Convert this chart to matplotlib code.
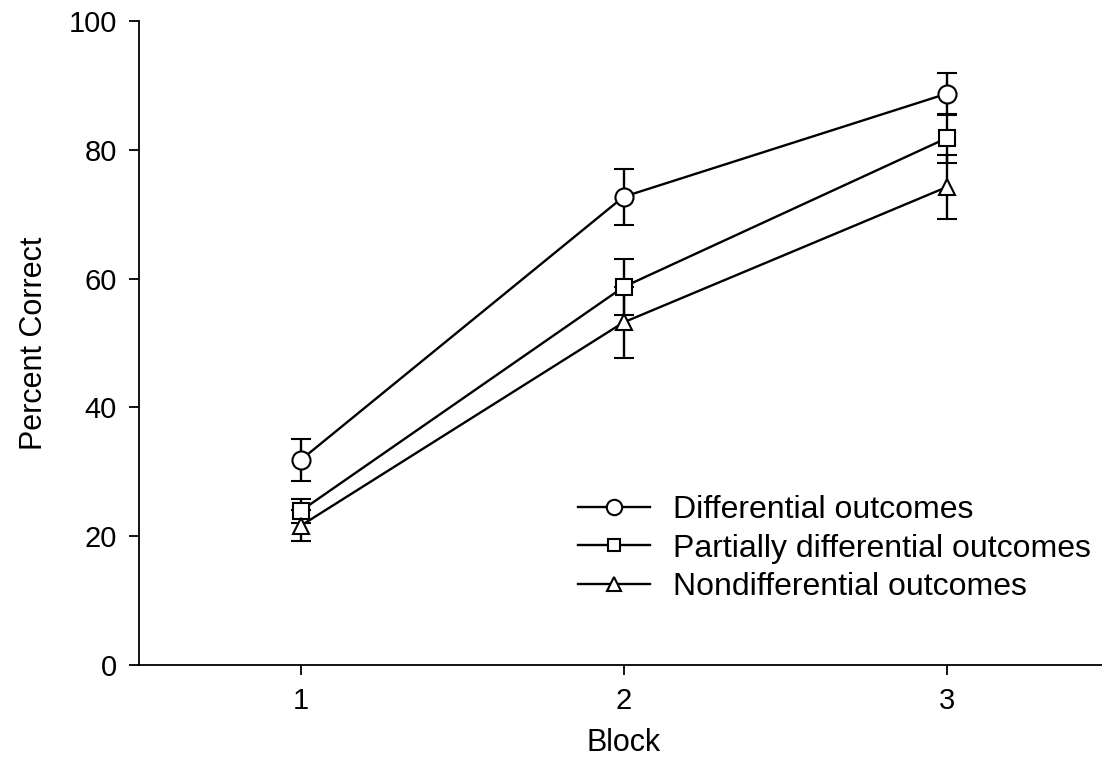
import matplotlib
matplotlib.use("Agg")
import matplotlib.pyplot as plt

plt.rcParams['font.family'] = ['Liberation Sans', 'DejaVu Sans']

blocks = [1, 2, 3]
labels = ["Differential outcomes", "Partially differential outcomes", "Nondifferential outcomes"]
diff_mean = [31.8, 72.7, 88.7]
diff_err = [3.3, 4.3, 3.3]
part_mean = [23.9, 58.7, 81.8]
part_err = [1.9, 4.3, 3.8]
nond_mean = [21.6, 53.2, 74.2]
nond_err = [2.4, 5.5, 5.0]

fig = plt.figure(figsize=(11.02, 7.68), dpi=100)
ax = fig.add_axes([139/1102, 103/768, 969/1102, 644/768])

series = [(diff_mean, diff_err, 'o', 13), (part_mean, part_err, 's', 11), (nond_mean, nond_err, '^', 12)]
handles = []
for (m, e, mk, ms), lab in zip(series, labels):
    h = ax.errorbar(blocks, m, yerr=e, color='black', marker=mk, markersize=ms,
                    markerfacecolor='white', markeredgecolor='black', markeredgewidth=1.5,
                    linewidth=1.7, elinewidth=1.7, capsize=7, capthick=1.7, label=lab)
    handles.append(h)

ax.set_xlim(0.5, 3.5)
ax.set_ylim(0, 100)
ax.set_xticks(blocks)
ax.set_yticks([0, 20, 40, 60, 80, 100])
ax.spines['top'].set_visible(False)
ax.spines['right'].set_visible(False)
ax.spines['left'].set_linewidth(1.3)
ax.spines['bottom'].set_linewidth(1.3)
ax.tick_params(direction='out', length=7, width=1.3, labelsize=21, pad=9)
ax.set_xlabel("Block", fontsize=22, labelpad=9)
ax.set_ylabel("Percent Correct", fontsize=22, labelpad=14)

leg = ax.legend(handles=[h[0] for h in handles], labels=labels, loc='upper left',
                bbox_to_anchor=(578/1102, 1 - 495/768), bbox_transform=fig.transFigure,
                frameon=False, fontsize=23, borderaxespad=0, borderpad=0,
                handlelength=2.25, handletextpad=0.72, labelspacing=0.27, markerscale=0.85)

fig.savefig("out.png", dpi=100)
